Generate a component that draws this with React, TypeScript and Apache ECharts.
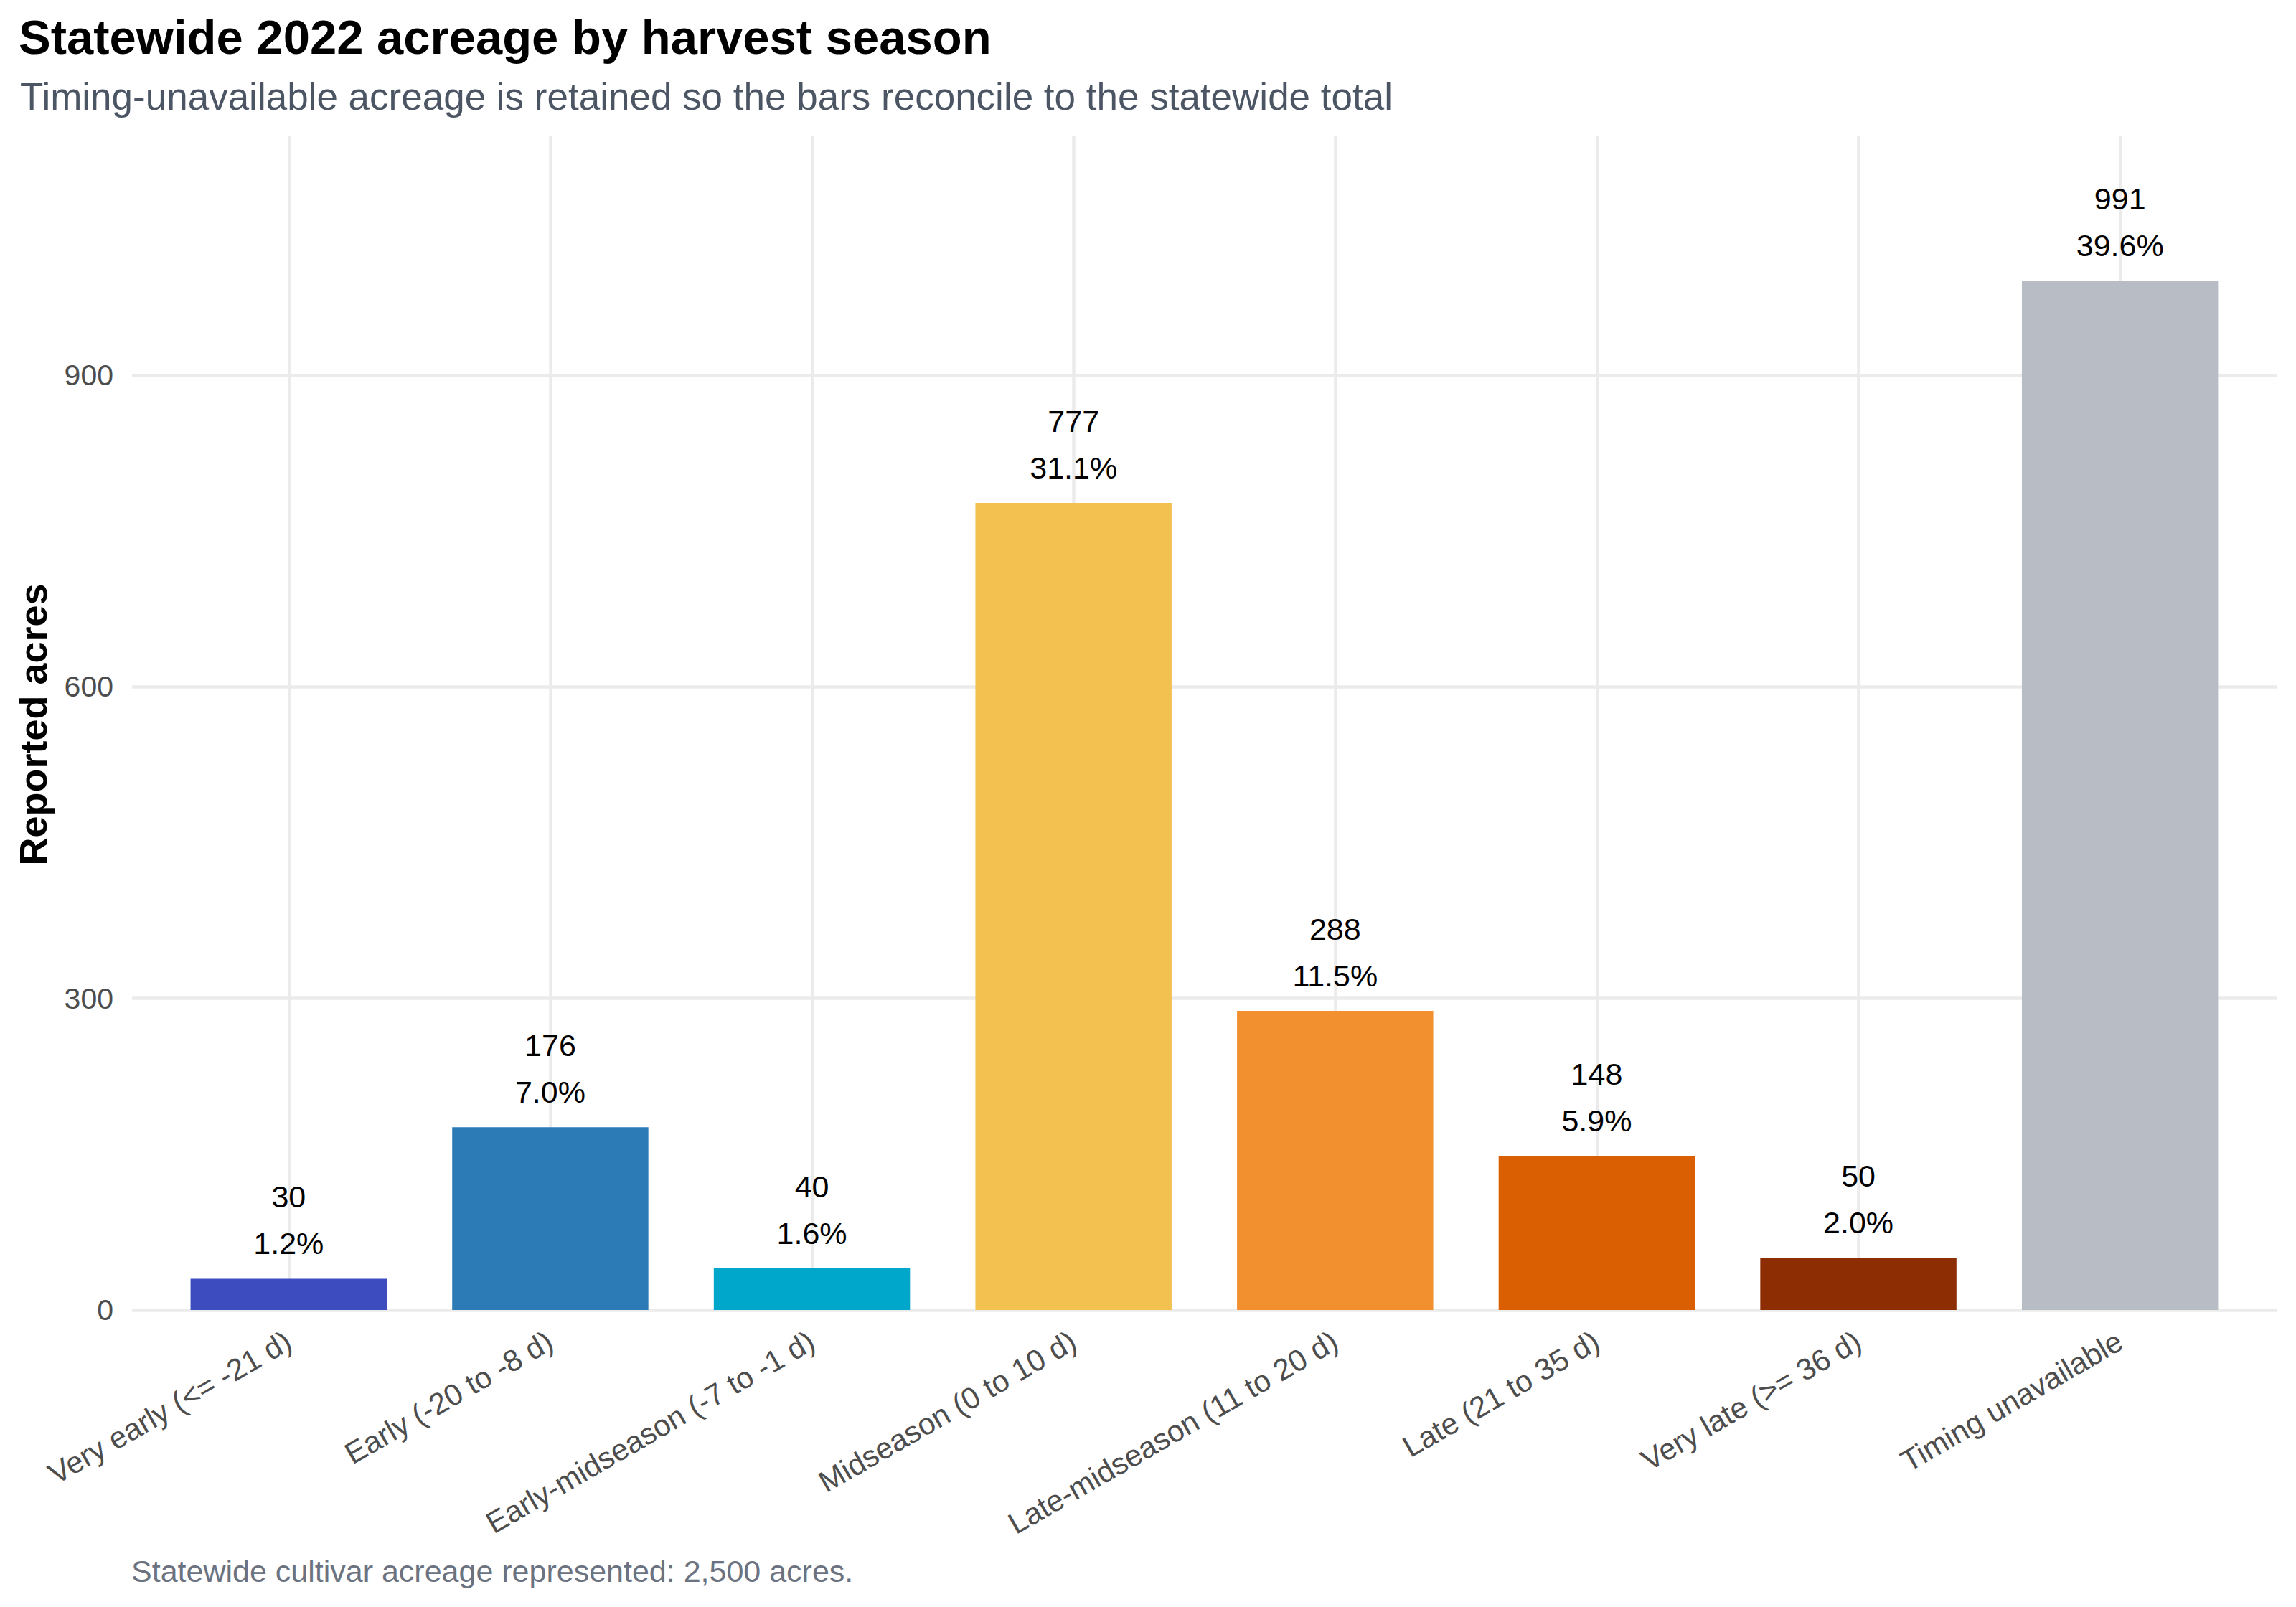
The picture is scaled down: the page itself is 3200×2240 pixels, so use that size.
import React, { useEffect, useRef } from "react";
import * as echarts from "echarts";

const categories = [
  "Very early (<= -21 d)",
  "Early (-20 to -8 d)",
  "Early-midseason (-7 to -1 d)",
  "Midseason (0 to 10 d)",
  "Late-midseason (11 to 20 d)",
  "Late (21 to 35 d)",
  "Very late (>= 36 d)",
  "Timing unavailable",
];
const acres = [30, 176, 40, 777, 288, 148, 50, 991];
const pctLabels = ["1.2%", "7.0%", "1.6%", "31.1%", "11.5%", "5.9%", "2.0%", "39.6%"];
const barColors = [
  "#3D4DBF",
  "#2D7BB6",
  "#00A7CA",
  "#F2C14F",
  "#F28F2E",
  "#D95F02",
  "#8C2D04",
  "#B8BCC4",
];
const yTicks = { min: 0, max: 1130, interval: 300 };

const TITLE = "Statewide 2022 acreage by harvest season";
const SUBTITLE = "Timing-unavailable acreage is retained so the bars reconcile to the statewide total";
const FOOTER = "Statewide cultivar acreage represented: 2,500 acres.";
const Y_NAME = "Reported acres";

const FONT = "'Liberation Sans', Arial, Helvetica, sans-serif";
const GRID_COLOR = "#EBEBEB";

export default function App() {
  const ref = useRef<HTMLDivElement>(null);
  useEffect(() => {
    document.body.style.margin = "0";
    if (!ref.current) return;
    const chart = echarts.init(ref.current, null, { renderer: "svg" });
    const option: any = {
      animation: false,
      backgroundColor: "#FFFFFF",
      textStyle: { fontFamily: FONT },
      grid: [
        { left: 184, right: 26, top: 190, bottom: 414 },
        { left: 220, right: 63, top: 190, bottom: 414 },
      ],
      xAxis: [
        {
          type: "value",
          gridIndex: 0,
          min: -0.6,
          max: 7.6,
          splitNumber: 8,
          axisLine: { show: false },
          axisTick: { show: false },
          axisLabel: { show: false },
          splitLine: {
            show: true,
            showMinLine: false,
            showMaxLine: false,
            lineStyle: { color: GRID_COLOR, width: 4.5 },
          },
        },
        {
          type: "category",
          gridIndex: 1,
          data: categories,
          axisLine: { show: false },
          axisTick: { show: false },
          splitLine: { show: false },
          axisLabel: {
            interval: 0,
            rotate: 30,
            margin: 40,
            fontSize: 42,
            color: "#4D4D4D",
            fontFamily: FONT,
          },
        },
      ],
      yAxis: [
        {
          type: "value",
          gridIndex: 0,
          min: yTicks.min,
          max: yTicks.max,
          interval: yTicks.interval,
          axisLine: { show: false },
          axisTick: { show: false },
          axisLabel: {
            showMaxLabel: false,
            margin: 26,
            fontSize: 41,
            color: "#4D4D4D",
            fontFamily: FONT,
          },
          splitLine: {
            show: true,
            showMaxLine: false,
            lineStyle: { color: GRID_COLOR, width: 4.5 },
          },
        },
        {
          type: "value",
          gridIndex: 1,
          min: yTicks.min,
          max: yTicks.max,
          interval: yTicks.interval,
          show: false,
          splitLine: { show: false },
        },
      ],
      series: [
        {
          type: "bar",
          xAxisIndex: 1,
          yAxisIndex: 1,
          barWidth: "75%",
          z: 3,
          data: acres.map((v, i) => ({ value: v, itemStyle: { color: barColors[i] } })),
          label: {
            show: true,
            position: "top",
            distance: 17,
            fontSize: 43,
            lineHeight: 65,
            color: "#000000",
            fontFamily: FONT,
            formatter: (p: any) => `${acres[p.dataIndex]}\n${pctLabels[p.dataIndex]}`,
          },
        },
      ],
      graphic: [
        {
          type: "text",
          x: 26,
          y: 51,
          style: {
            text: TITLE,
            fontSize: 67,
            fontWeight: "bold",
            fontFamily: FONT,
            fill: "#000000",
            align: "left",
            verticalAlign: "middle",
          },
        },
        {
          type: "text",
          x: 28,
          y: 134,
          style: {
            text: SUBTITLE,
            fontSize: 53,
            fontFamily: FONT,
            fill: "#4B5563",
            align: "left",
            verticalAlign: "middle",
          },
        },
        {
          type: "text",
          x: 46,
          y: 1010,
          rotation: Math.PI / 2,
          style: {
            text: Y_NAME,
            fontSize: 54,
            fontWeight: "bold",
            fontFamily: FONT,
            fill: "#000000",
            align: "center",
            verticalAlign: "middle",
          },
        },
        {
          type: "text",
          x: 183,
          y: 2190,
          style: {
            text: FOOTER,
            fontSize: 43,
            fontFamily: FONT,
            fill: "#6B7280",
            align: "left",
            verticalAlign: "middle",
          },
        },
      ],
    };
    chart.setOption(option);
    return () => chart.dispose();
  }, []);
  return <div ref={ref} style={{ width: 3200, height: 2240 }} />;
}
